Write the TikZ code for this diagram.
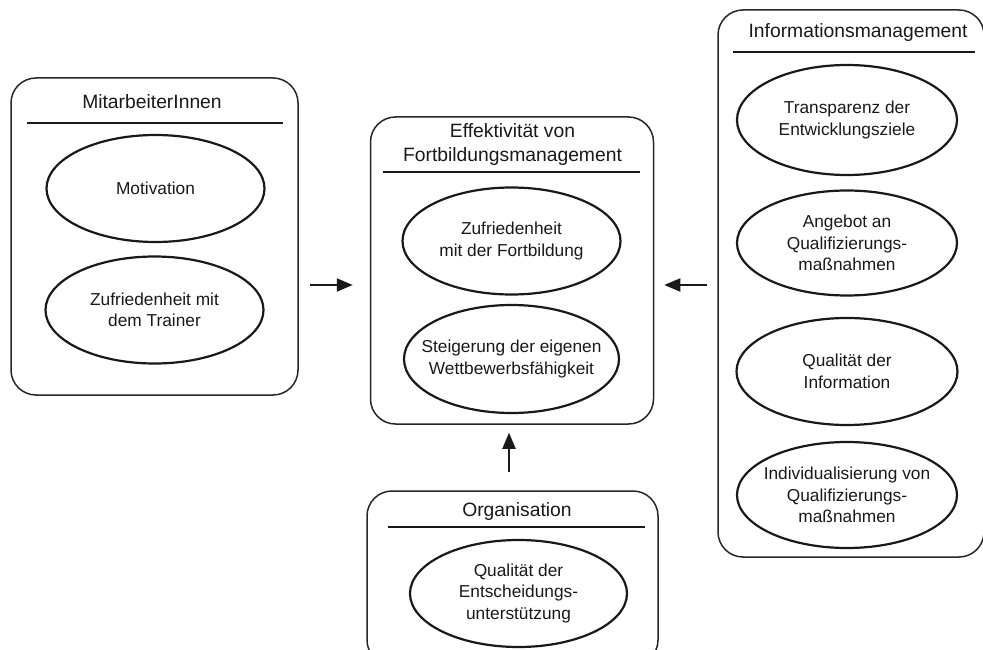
\documentclass[tikz,border=0pt]{standalone}
\usepackage{fontspec}
\setmainfont{Liberation Sans}
\usetikzlibrary{shapes.geometric,arrows.meta}

\begin{document}
\begin{tikzpicture}[x=1pt,y=-1pt,
  panel/.style={rectangle, draw=black!85, line width=1.5pt, rounded corners=25pt, inner sep=0pt},
  goal/.style={ellipse, draw=black!90, line width=2.2pt, inner sep=0pt,
               minimum width=218pt, minimum height=107pt},
  goaltext/.style={align=center, inner sep=0pt, text=black!90,
                   font=\fontsize{17.3}{21.5}\selectfont},
  heading/.style={align=center, inner sep=0pt, text=black!90,
                  font=\fontsize{19.3}{24}\selectfont},
  headrule/.style={line width=1.6pt, draw=black!90},
  flow/.style={line width=2pt, draw=black!90, -{Triangle[length=16pt,width=13pt]}}
]
\useasboundingbox (0,0) rectangle (983,650);
\clip (0,0) rectangle (983,650);

% panels
\node[panel, minimum width=287pt, minimum height=317pt] (staff) at (154.5,236.5) {};
\node[panel, minimum width=283pt, minimum height=307pt] (eff)   at (512,270.5) {};
\node[panel, minimum width=291pt, minimum height=174pt] (org)   at (512.5,578) {};
\node[panel, minimum width=266pt, minimum height=547pt] (info)  at (851,283.5) {};

% panel headings and rules
\node[heading] (staffhead) at (152,102) {MitarbeiterInnen};
\draw[headrule] (27,123) -- (283,123);
\node[heading] (effhead) at (512.5,145) {Effektivität von\\Fortbildungsmanagement};
\draw[headrule] (383,172) -- (640,172);
\node[heading] (orghead) at (517,512) {Organisation};
\draw[headrule] (388,527) -- (645,527);
\node[heading] (infohead) at (858,33) {Informationsmanagement};
\draw[headrule] (733,52) -- (975,52);

% MitarbeiterInnen
\node[goal, label={[goaltext]center:{Motivation}}] (mot) at (155.5,188.5) {};
\node[goal, label={[goaltext]center:{Zufriedenheit mit\\dem Trainer}}] (trainer) at (154.5,310) {};

% Effektivität von Fortbildungsmanagement
\node[goal, label={[goaltext]center:{Zufriedenheit\\mit der Fortbildung}}] (zuf) at (511.5,241) {};
\node[goal, minimum width=215pt, minimum height=108pt,
      label={[goaltext]center:{Steigerung der eigenen\\Wettbewerbsfähigkeit}}] (steig) at (511.5,359) {};

% Organisation
\node[goal, minimum width=217pt, label={[goaltext]center:{Qualität der\\Entscheidungs-\\unterstützung}}] (entsch) at (518.5,593.5) {};

% Informationsmanagement
\node[goal, minimum width=220pt, minimum height=110pt,
      label={[goaltext]center:{Transparenz der\\Entwicklungsziele}}] (transp) at (847,120) {};
\node[goal, minimum width=220pt, minimum height=105pt,
      label={[goaltext]center:{Angebot an\\Qualifizierungs-\\maßnahmen}}] (angebot) at (847,243) {};
\node[goal, minimum width=221pt,
      label={[goaltext]center:{Qualität der\\Information}}] (qinfo) at (847,371.5) {};
\node[goal, minimum width=220pt, minimum height=106pt,
      label={[goaltext]center:{Individualisierung von\\Qualifizierungs-\\maßnahmen}}] (indiv) at (847,495) {};

% influences on the central panel
\coordinate (midrow) at (0,285);
\coordinate (upcol) at (509,0);
\draw[flow, shorten <=11pt, shorten >=17pt] (staff.east |- midrow) -- (eff.west |- midrow);
\draw[flow, shorten <=10pt, shorten >=10pt] (info.west |- midrow) -- (eff.east |- midrow);
\draw[flow, shorten <=18pt, shorten >=8pt] (org.north -| upcol) -- (eff.south -| upcol);
\end{tikzpicture}
\end{document}
